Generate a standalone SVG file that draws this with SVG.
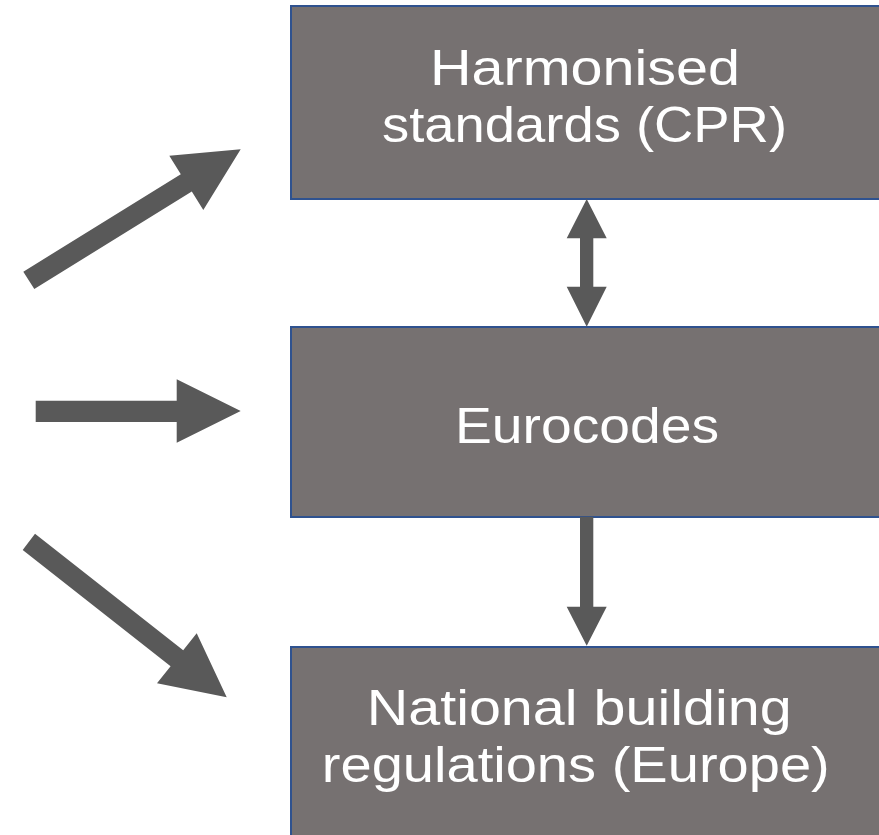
<svg xmlns="http://www.w3.org/2000/svg" width="879" height="835" viewBox="0 0 879 835">
<style>
.box{fill:#767171;stroke:#2F528F;stroke-width:2}
.lbl{fill:#ffffff;font-family:"Liberation Sans",Arial,sans-serif;font-size:50px;text-anchor:middle;font-variant-ligatures:none}
.arr{fill:#595959;stroke:none}
</style>
<rect width="879" height="835" fill="#ffffff"/>
<g id="node-harmonised">
<rect class="box" x="291" y="6" width="600" height="193"/>
<text class="lbl" x="585" y="85" textLength="310" lengthAdjust="spacingAndGlyphs">Harmonised</text>
<text class="lbl" x="584.5" y="141.7" textLength="405" lengthAdjust="spacingAndGlyphs">standards (CPR)</text>
</g>
<g id="node-eurocodes">
<rect class="box" x="291" y="327" width="600" height="190"/>
<text class="lbl" x="587" y="442.7" textLength="264" lengthAdjust="spacingAndGlyphs">Eurocodes</text>
</g>
<g id="node-national">
<rect class="box" x="291" y="647" width="600" height="200"/>
<text class="lbl" x="579.2" y="725" textLength="425" lengthAdjust="spacingAndGlyphs">National building</text>
<text class="lbl" x="575.8" y="781.7" textLength="508" lengthAdjust="spacingAndGlyphs">regulations (Europe)</text>
</g>
<g id="connectors">
<polygon class="arr" points="23.3,271.7 180.8,174.2 169.3,155.7 240.7,149.3 203.3,210 191.8,191.5 34.3,289"/>
<polygon class="arr" points="35.7,400.7 176.7,400.7 176.7,379.3 240.7,411 176.7,442.7 176.7,422 35.7,422"/>
<polygon class="arr" points="35,533.7 183.2,650.3 196.7,633.3 226.7,697.3 157,683.3 170.6,666.3 22.7,550"/>
<polygon class="arr" points="586.7,199 606.7,238.3 593.3,238.3 593.3,286.7 606.7,286.7 586.7,326.7 566.7,286.7 580,286.7 580,238.3 566.7,238.3"/>
<polygon class="arr" points="580,516.7 593.3,516.7 593.3,606.7 606.7,606.7 586.7,645.7 566.7,606.7 580,606.7"/>
</g>
</svg>
